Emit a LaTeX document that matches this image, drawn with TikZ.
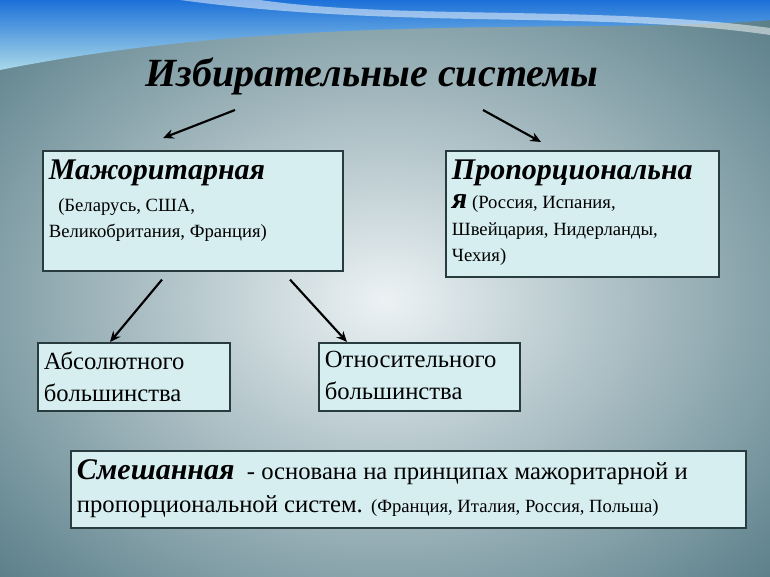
\documentclass[tikz,border=0pt]{standalone}
\usepackage{fontspec}
\setmainfont{Liberation Serif}
\usetikzlibrary{arrows.meta}
\definecolor{edgeteal}{RGB}{92,128,138}
\definecolor{centerlight}{RGB}{236,242,244}
\definecolor{boxfill}{RGB}{214,238,240}
\definecolor{boxline}{RGB}{40,60,64}
\definecolor{wavecyan}{RGB}{40,160,200}
\tikzset{
  block/.style={draw=boxline, line width=1.2pt, fill=boxfill, anchor=north west, inner sep=0pt},
  blocktext/.style={anchor=north west, align=left, inner xsep=5pt, inner ysep=7pt},
  link/.style={-{Stealth[length=8pt,width=7pt]}, line width=1.6pt}
}
\newcommand{\headfont}{\fontsize{22.5}{25}\selectfont\bfseries\itshape}
\newcommand{\smallfont}{\fontsize{14}{20}\selectfont}
\begin{document}
\begin{tikzpicture}[x=0.75pt,y=-0.75pt]
\useasboundingbox (0,0) rectangle (770,577);
% background
\shade[inner color=centerlight, outer color=edgeteal] (-150,-100) rectangle (920,700);
\shade[top color=wavecyan!70!blue, bottom color=wavecyan!40!white]
  (0,0) -- (770,0) -- (770,20) .. controls (600,35) and (300,10) .. (0,70) -- cycle;
\fill[white,opacity=0.5] (180,0) .. controls (400,30) and (600,10) .. (770,35) -- (770,28)
  .. controls (600,5) and (400,20) .. (260,0) -- cycle;
% title
\node (title) at (372,76) {\fontsize{30}{33}\selectfont\bfseries\itshape Избирательные системы};
% boxes
\node[block, minimum width=300*0.75pt, minimum height=120*0.75pt] (major) at (42,150) {};
\node[block, minimum width=273*0.75pt, minimum height=126*0.75pt] (prop) at (445,150) {};
\node[block, minimum width=192*0.75pt, minimum height=68*0.75pt] (abs) at (37,342) {};
\node[block, minimum width=201*0.75pt, minimum height=68*0.75pt] (rel) at (318,342) {};
\node[block, minimum width=675*0.75pt, minimum height=77*0.75pt] (mixed) at (70,450) {};
% texts
\node[blocktext, font=\smallfont] (majortext) at (major.north west)
  {{\headfont Мажоритарная}\\[4pt]
   \ \ (Беларусь, США,\\ Великобритания, Франция)};
\node[blocktext, font=\smallfont] (proptext) at (prop.north west)
  {{\headfont Пропорциональна}\\[2pt]
   {\headfont я}\ (Россия, Испания,\\ Швейцария, Нидерланды,\\ Чехия)};
\node[blocktext, font=\fontsize{18.5}{24}\selectfont] (abstext) at (abs.north west)
  {Абсолютного\\ большинства};
\node[blocktext, font=\fontsize{18.5}{24}\selectfont] (reltext) at (rel.north west)
  {Относительного\\ большинства};
\node[blocktext, font=\fontsize{18.5}{25}\selectfont] (mixedtext) at (mixed.north west)
  {{\headfont Смешанная}\ \ - основана на принципах мажоритарной и\\
   пропорциональной систем. {\fontsize{14}{15}\selectfont(Франция, Италия, Россия, Польша)}};
% arrows
\coordinate (t1) at (235,110); \coordinate (t2) at (483,110);
\coordinate (a1) at (163,138); \coordinate (a2) at (541,142);
\draw[link] (t1) -- (a1);
\draw[link] (t2) -- (a2);
\draw[link] (major.south -| 162,0) ++(0,-6pt) -- (abs.north -| 110,0);
\draw[link] (major.south -| 290,0) ++(0,-6pt) -- (rel.north -| 347,0);
\end{tikzpicture}
\end{document}
